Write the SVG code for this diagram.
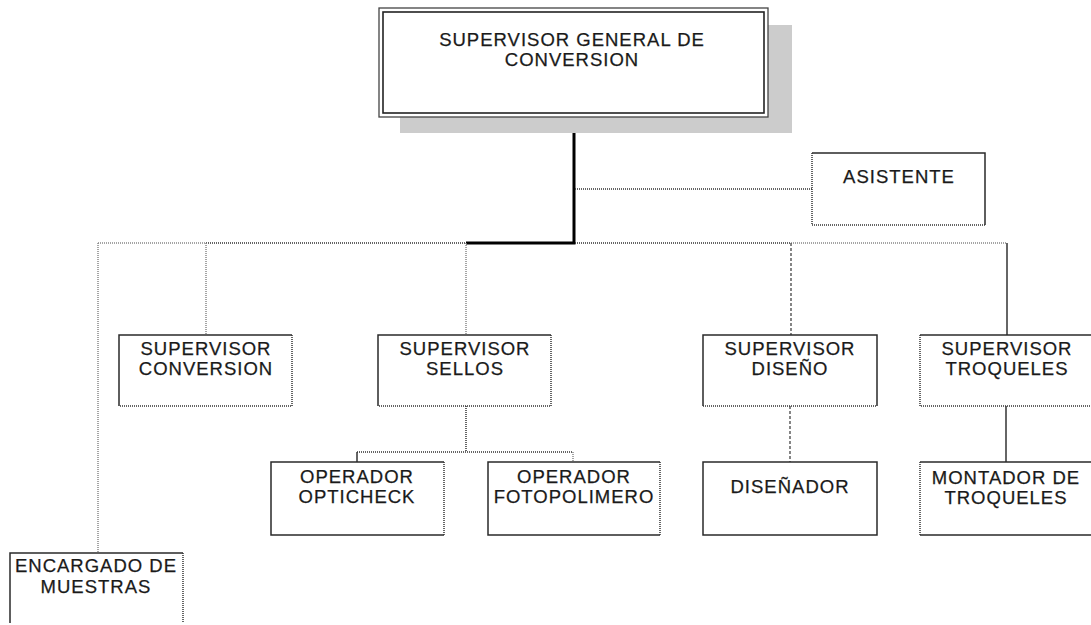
<svg xmlns="http://www.w3.org/2000/svg" width="1091" height="625" viewBox="0 0 1091 625">
  <style>
    .box { fill: #ffffff; stroke: none; }
    .edge { fill: none; stroke: #2a2a2a; stroke-width: 1.5; }
    .dot { fill: none; stroke: #333333; stroke-width: 1.5; stroke-dasharray: 1 1; }
    .lt { fill: none; stroke: #888888; stroke-width: 1.5; stroke-dasharray: 1 1; }
    .dash { fill: none; stroke: #444444; stroke-width: 1.3; stroke-dasharray: 3 2; }
    .solid { fill: none; stroke: #333333; stroke-width: 1.5; }
    .main { fill: none; stroke: #000000; stroke-width: 3; }
    text { font-family: "Liberation Sans", Arial, sans-serif; font-size: 18.5px; fill: #1a1a1a; stroke: #1a1a1a; stroke-width: 0.25; text-anchor: middle; letter-spacing: 1px; }
  </style>

  <rect width="1091" height="625" fill="#ffffff"/>

  <!-- connectors -->
  <g id="connectors">
    <!-- trunk from the head box -->
    <path class="main" d="M574 117 V243 H466"/>
    <!-- assistant branch -->
    <path class="dot" d="M575 189 H812"/>
    <!-- horizontal bus -->
    <path class="lt" d="M98 243 H206"/>
    <path class="dot" d="M206 243 H466"/>
    <path class="dot" d="M575 243 H791"/>
    <path class="lt" d="M791 243 H1007"/>
    <!-- drops to the second level -->
    <path class="lt" d="M98 243 V553"/>
    <path class="lt" d="M206 243 V335"/>
    <path class="lt" d="M466 243 V335"/>
    <path class="dash" d="M791 243 V335"/>
    <path class="solid" d="M1007 243 V335"/>
    <!-- sellos branch -->
    <path class="dot" d="M466 406 V452"/>
    <path class="dot" d="M357 452 H573"/>
    <path class="solid" d="M357 452 V462"/>
    <path class="lt" d="M573 452 V462"/>
    <!-- diseño branch -->
    <path class="dash" d="M790 406 V462"/>
    <!-- troqueles branch -->
    <path class="solid" d="M1006 406 V462"/>
  </g>

  <!-- head box with drop shadow and double frame -->
  <g id="supervisor-general">
    <rect x="400" y="25" width="392" height="108" fill="#cccccc"/>
    <rect x="379" y="8" width="389" height="109" fill="#ffffff" stroke="#444444" stroke-width="1.3"/>
    <rect x="383" y="12" width="381" height="101" fill="#ffffff" stroke="#222222" stroke-width="1.6"/>
    <text x="572" y="46">SUPERVISOR GENERAL DE</text>
    <text x="572" y="66">CONVERSION</text>
  </g>

  <g id="asistente">
    <rect class="box" x="812" y="153" width="173" height="72"/>
    <path class="edge" d="M812 153 H985 V225"/>
    <path class="dot" d="M812 153 V225 H985"/>
    <text x="899" y="183">ASISTENTE</text>
  </g>

  <g id="supervisor-conversion">
    <rect class="box" x="119" y="335" width="173" height="71"/>
    <path class="edge" d="M119 406 V335 H292"/>
    <path class="dot" d="M292 335 V406 H119"/>
    <text x="206" y="355">SUPERVISOR</text>
    <text x="206" y="375">CONVERSION</text>
  </g>

  <g id="supervisor-sellos">
    <rect class="box" x="378" y="335" width="173" height="71"/>
    <path class="edge" d="M378 406 V335 H551"/>
    <path class="dot" d="M551 335 V406 H378"/>
    <text x="465" y="355">SUPERVISOR</text>
    <text x="465" y="375">SELLOS</text>
  </g>

  <g id="supervisor-diseno">
    <rect class="box" x="703" y="335" width="174" height="71"/>
    <path class="edge" d="M703 406 V335 H877 V406"/>
    <path class="dot" d="M703 406 H877"/>
    <text x="790" y="355">SUPERVISOR</text>
    <text x="790" y="375">DISEÑO</text>
  </g>

  <g id="supervisor-troqueles">
    <rect class="box" x="920" y="335" width="175" height="71"/>
    <path class="edge" d="M920 335 H1095"/>
    <path class="dot" d="M920 335 V406 H1095"/>
    <text x="1007" y="355">SUPERVISOR</text>
    <text x="1007" y="375">TROQUELES</text>
  </g>

  <g id="operador-opticheck">
    <rect class="box" x="271" y="462" width="173" height="73"/>
    <path class="edge" d="M444 535 H271 V462 H444"/>
    <path class="dot" d="M444 462 V535"/>
    <text x="357" y="483">OPERADOR</text>
    <text x="357" y="503">OPTICHECK</text>
  </g>

  <g id="operador-fotopolimero">
    <rect class="box" x="488" y="462" width="172" height="73"/>
    <path class="edge" d="M660 535 H488 V462 H660"/>
    <path class="dot" d="M660 462 V535"/>
    <text x="574" y="483">OPERADOR</text>
    <text x="574" y="503">FOTOPOLIMERO</text>
  </g>

  <g id="disenador">
    <rect class="box" x="703" y="462" width="174" height="73"/>
    <path class="edge" d="M703 462 H877 V535 H703 Z"/>
    <text x="790" y="493">DISEÑADOR</text>
  </g>

  <g id="montador-troqueles">
    <rect class="box" x="920" y="462" width="175" height="73"/>
    <path class="edge" d="M920 462 H1095 M920 535 H1095"/>
    <path class="dot" d="M920 462 V535"/>
    <text x="1006" y="484">MONTADOR DE</text>
    <text x="1006" y="504">TROQUELES</text>
  </g>

  <g id="encargado-muestras">
    <rect class="box" x="10" y="553" width="173" height="70"/>
    <path class="edge" d="M10 623 V553 H183"/>
    <path class="dot" d="M183 553 V623"/>
    <text x="96" y="572">ENCARGADO DE</text>
    <text x="96" y="593">MUESTRAS</text>
  </g>
</svg>
